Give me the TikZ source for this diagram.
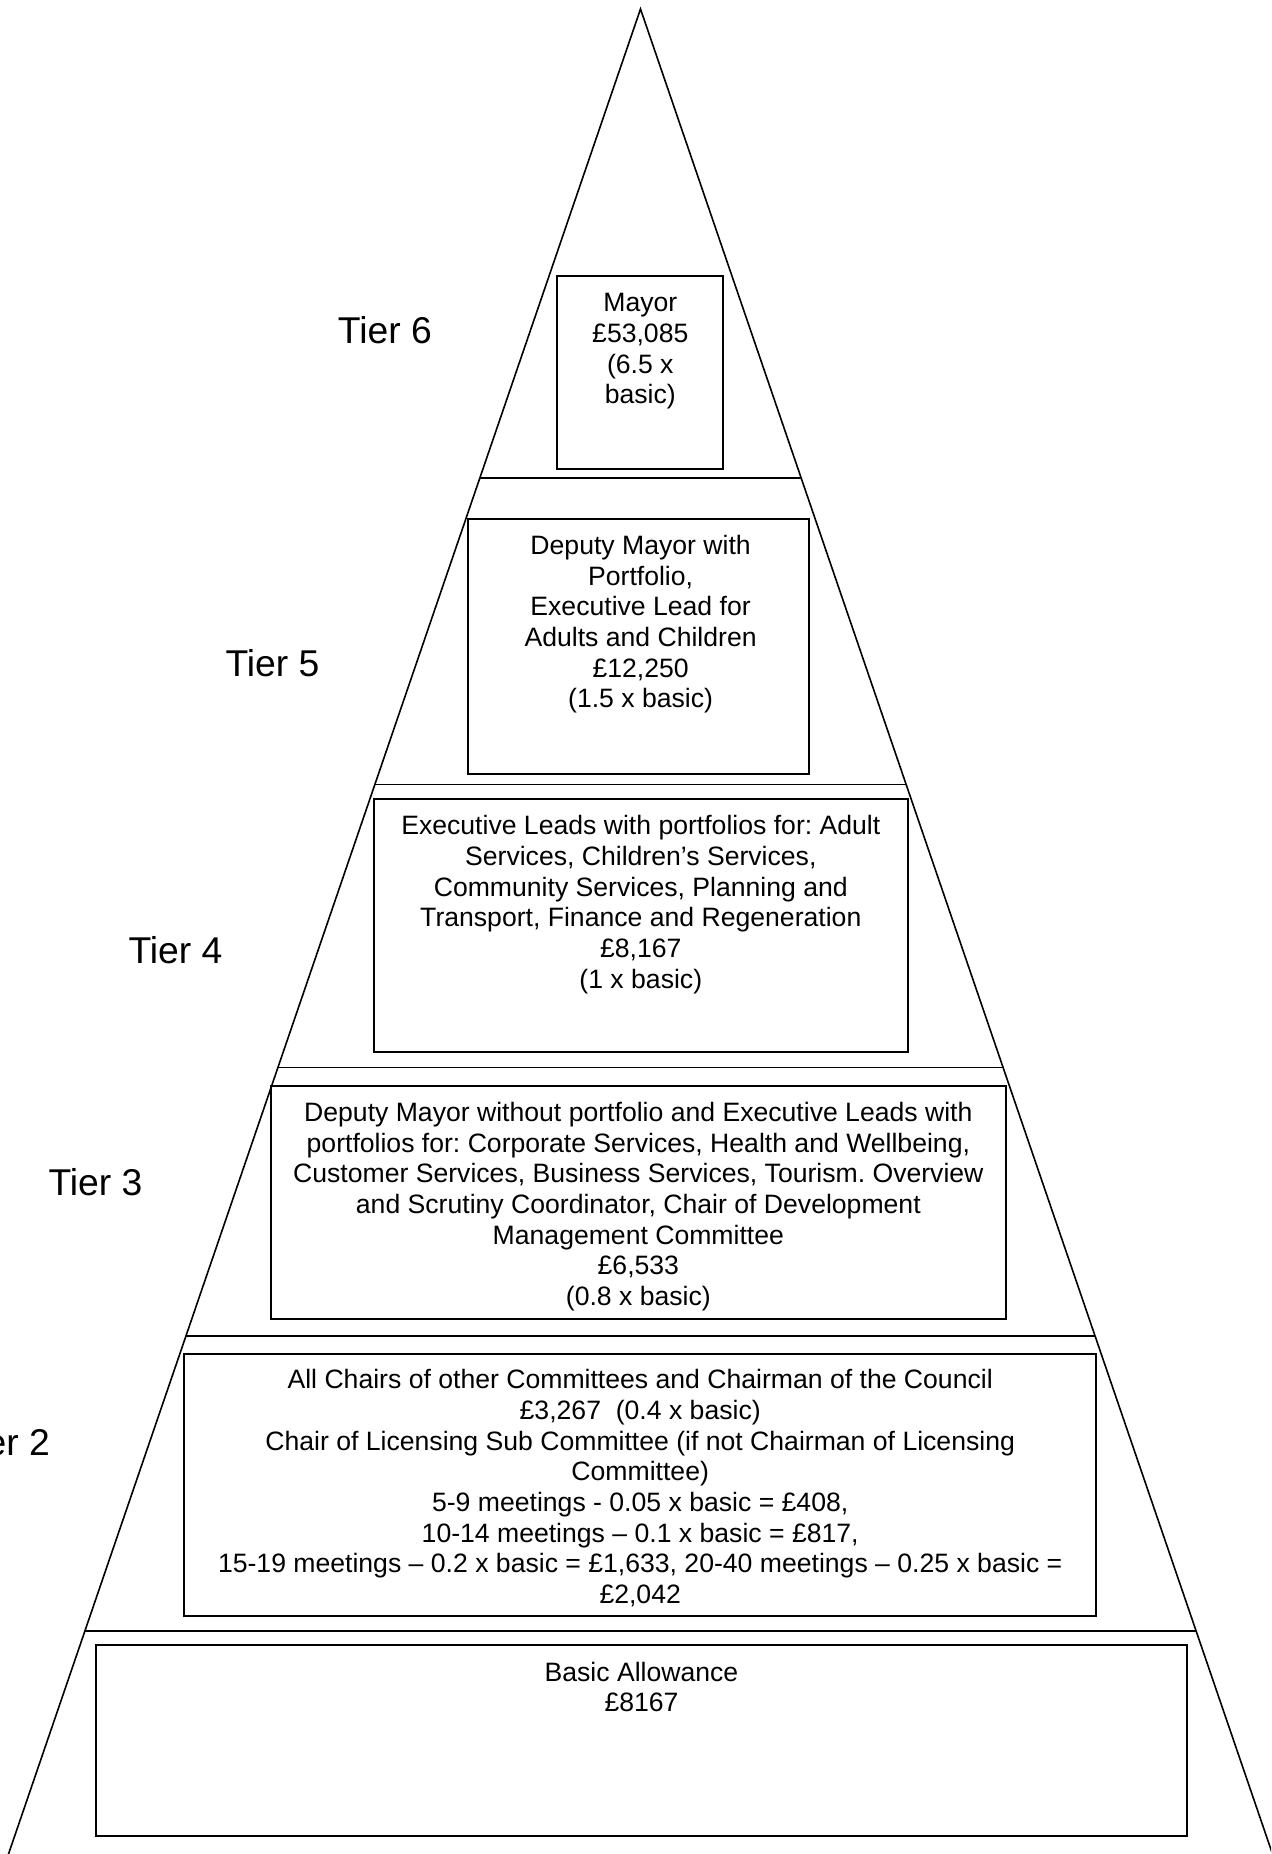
\documentclass[tikz,border=0pt]{standalone}
\usepackage{fontspec}
\setmainfont{Liberation Sans}
\usetikzlibrary{calc}
\frenchspacing
\begin{document}
\begin{tikzpicture}[x=1pt,y=-1pt,
  edge/.style={line width=1.6pt, line cap=round},
  divider/.style={line width=1.6pt},
  boxst/.style={draw, line width=2pt, inner sep=0pt, rectangle},
  txt/.style={align=center, inner sep=0pt, anchor=north, font=\frenchspacing\fontsize{26.6}{30.7}\selectfont},
  tierlbl/.style={inner sep=0pt, font=\fontsize{37.3}{43}\selectfont}]
\useasboundingbox (0,0) rectangle (1271,1854);
\clip (0,0) rectangle (1271,1854);
% pyramid outline
\coordinate (A) at (640.5,9);
\coordinate (BL) at (8.5,1854);
\coordinate (BR) at (1272.5,1854);
\draw[edge] (BL) -- (A) -- (BR);
% tier dividers
\foreach \t in {0.2542,0.4203,0.5737,0.7192,0.8791}{
  \draw[divider] ($(A)!\t!(BL)$) -- ($(A)!\t!(BR)$);
}
% boxes
\node[boxst, minimum width=166pt, minimum height=193pt] (b6) at (640.3,372.5) {};
\node[boxst, minimum width=340.8pt, minimum height=255pt] (b5) at (638.6,646.1) {};
\node[boxst, minimum width=534.4pt, minimum height=252.8pt] (b4) at (640.8,925.4) {};
\node[boxst, minimum width=735.3pt, minimum height=233.3pt] (b3) at (638.35,1202.35) {};
\node[boxst, minimum width=911.6pt, minimum height=262.5pt] (b2) at (640.2,1484.75) {};
\node[boxst, minimum width=1091pt, minimum height=191pt] (b1) at (641.5,1740.5) {};
% box texts
\node[txt] (t6) at ([yshift=-12.5pt]b6.north) {\rule{0pt}{24pt}Mayor\\£53,085\\(6.5 x\\basic)};
\node[txt] (t5) at ([yshift=-12.5pt,xshift=2pt]b5.north) {\rule{0pt}{24pt}Deputy Mayor with\\Portfolio,\\Executive Lead for\\Adults and Children\\£12,250\\(1.5 x basic)};
\node[txt] (t4) at ([yshift=-12.5pt]b4.north) {\rule{0pt}{24pt}Executive Leads with portfolios for: Adult\\Services, Children’s Services,\\Community Services, Planning and\\Transport, Finance and Regeneration\\£8,167\\(1 x basic)};
\node[txt] (t3) at ([yshift=-12.5pt]b3.north) {\rule{0pt}{24pt}Deputy Mayor without portfolio and Executive Leads with\\portfolios for: Corporate Services, Health and Wellbeing,\\Customer Services, Business Services, Tourism. Overview\\and Scrutiny Coordinator, Chair of Development\\Management Committee\\£6,533\\(0.8 x basic)};
\node[txt] (t2) at ([yshift=-12pt]b2.north) {\rule{0pt}{24pt}All Chairs of other Committees and Chairman of the Council\\£3,267\ \ (0.4 x basic)\\Chair of Licensing Sub Committee (if not Chairman of Licensing\\Committee)\\5-9 meetings - 0.05 x basic = £408,\\10-14 meetings – 0.1 x basic = £817,\\15-19 meetings – 0.2 x basic = £1,633, 20-40 meetings – 0.25 x basic =\\£2,042};
\node[txt] (t1) at ([yshift=-13pt]b1.north) {\rule{0pt}{24pt}Basic Allowance\\£8167};
% tier labels
\node[tierlbl, anchor=base west] (l6) at (337.7,343.3) {Tier 6};
\node[tierlbl, anchor=base west] (l5) at (225.3,676) {Tier 5};
\node[tierlbl, anchor=base west] (l4) at (128.3,963.6) {Tier 4};
\node[tierlbl, anchor=base west] (l3) at (48.3,1195.7) {Tier 3};
\node[tierlbl, anchor=base east] (l2) at (50,1455) {Tier 2};
\end{tikzpicture}
\end{document}
